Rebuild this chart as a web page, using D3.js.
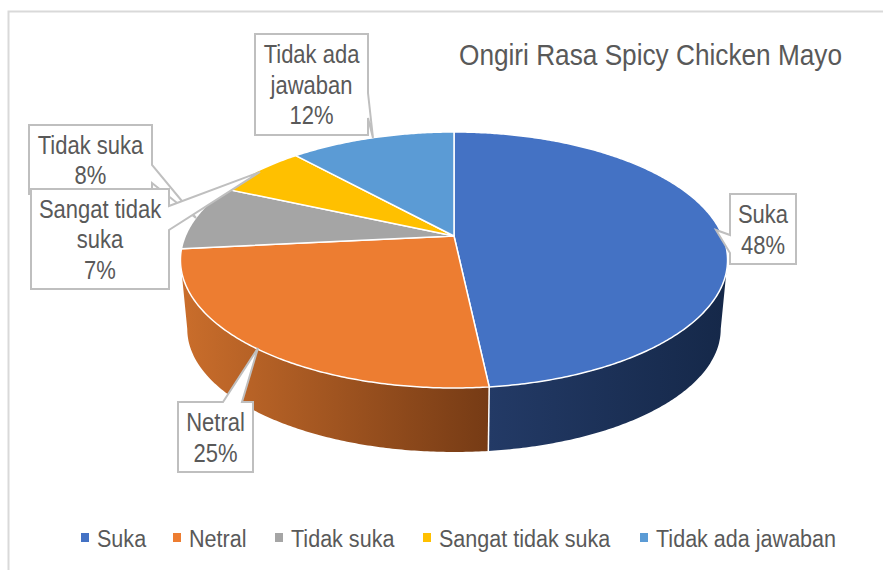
<!DOCTYPE html>
<html>
<head>
<meta charset="utf-8">
<script src="https://cdn.jsdelivr.net/npm/d3@7"></script>
<style>
html, body { margin: 0; padding: 0; background: #fff; }
svg { display: block; }
text { font-family: "Liberation Sans", Arial, sans-serif; fill: #595959; }
</style>
</head>
<body>
<div id="chart"></div>
<script>
// values
var categories = ["Suka", "Netral", "Tidak suka", "Sangat tidak suka", "Tidak ada jawaban"];
var values = [48.3, 25.1, 8.3, 6.6, 11.7];
var colors = ["#4472C4", "#ED7D31", "#A5A5A5", "#FFC000", "#5B9BD5"];
var labelLines = [["Suka"], ["Netral"], ["Tidak suka"], ["Sangat tidak", "suka"], ["Tidak ada", "jawaban"]];
var chartTitle = "Ongiri Rasa Spicy Chicken Mayo";

// callout boxes, [x0, y0, x1, y1], and the pointer outline for each
var labelBoxes = [
    {box: [730, 194, 796, 264], tip: [716, 230], side: "left", from: 235, to: 253},
    {box: [178, 402, 253, 472], tip: [258, 348], side: "top", from: 223, to: 242},
    {box: [29, 125, 152, 194], tip: [196, 218], side: "right", from: 165, to: 183},
    {box: [31, 189, 169, 289], tip: [260, 172], side: "right", from: 206, to: 230},
    {box: [255, 34, 368, 135], tip: [373, 138], side: "right", from: 93, to: 118}
];
var legendX = [81, 173, 275, 423, 640];

var width = 883, height = 570;
var textScale = 0.88;

var svg = d3.select("#chart").append("svg")
    .attr("width", width)
    .attr("height", height);

// chart frame
svg.append("rect")
    .attr("x", 8.5).attr("y", 11.5)
    .attr("width", width + 20).attr("height", height + 20)
    .attr("fill", "#fff")
    .attr("stroke", "#d9d9d9")
    .attr("stroke-width", 2);

// perspective of the disc. k tilts it, so the far half is shorter than the near one
var persp = {x0: 454, k: 0.1875};
var topRim = {y0: 236, a: 268.7, b: 123.5};
var botRim = {y0: 306, a: 262, b: 118.6};

function project(rim, angle) {
    let u = Math.sin(angle);
    let v = Math.cos(angle);
    let w = 1 + persp.k * v;
    return [persp.x0 + rim.a * u / w, rim.y0 - rim.b * v / w];
}

function rimPoints(rim, a0, a1) {
    let n = Math.max(2, Math.ceil(Math.abs(a1 - a0) / 0.01));
    return d3.range(n + 1).map((i) => project(rim, a0 + (a1 - a0) * i / n));
}

var line = d3.line();
var pie = d3.pie().sort(null);
var arcs = pie(values);

var defs = svg.append("defs");
function wallGradient(id, c0, c1, x0, x1) {
    let g = defs.append("linearGradient")
        .attr("id", id)
        .attr("gradientUnits", "userSpaceOnUse")
        .attr("x1", x0).attr("x2", x1)
        .attr("y1", 0).attr("y2", 0);
    g.append("stop").attr("offset", 0).attr("stop-color", c0);
    g.append("stop").attr("offset", 1).attr("stop-color", c1);
}
wallGradient("wall0", "#233a66", "#152849", 488, 725);
wallGradient("wall1", "#c96d2b", "#763b15", 185, 488);

// side wall, only the near half of the disc shows it. the rim is widest where cos = -k
var widest = Math.acos(-persp.k);
var wallStart = widest, wallEnd = Math.PI * 2 - widest;
arcs.forEach(function(d, i) {
    let a0 = Math.max(d.startAngle, wallStart);
    let a1 = Math.min(d.endAngle, wallEnd);
    if (a1 <= a0) return;
    let pts = rimPoints(topRim, a0, a1).concat(rimPoints(botRim, a1, a0));
    let wall = svg.append("path")
        .attr("d", line(pts) + "Z")
        .attr("fill", "url(#wall" + i + ")");
    // white seam only where two slices meet
    svg.append("path")
        .attr("d", line([project(topRim, d.startAngle), project(botRim, d.startAngle)]))
        .attr("stroke", d.startAngle > wallStart ? "#fff" : "none")
        .attr("stroke-width", 1.5);
});

// top face
arcs.forEach(function(d, i) {
    let pts = [[persp.x0, topRim.y0]].concat(rimPoints(topRim, d.startAngle, d.endAngle));
    svg.append("path")
        .attr("d", line(pts) + "Z")
        .attr("fill", colors[i])
        .attr("stroke", "#fff")
        .attr("stroke-width", 1.5)
        .attr("stroke-linejoin", "round");
});

// squeezed text, the original font is narrower than what is installed
function squeezed(x, y, str, size, anchor) {
    return svg.append("text")
        .attr("transform", "translate(" + x + "," + y + ") scale(" + textScale + ",1)")
        .attr("font-size", size)
        .attr("text-anchor", anchor)
        .text(str);
}

function calloutPath(c) {
    let [x0, y0, x1, y1] = c.box;
    let pts;
    if (c.side === "left") {
        pts = [[x0, y0], [x1, y0], [x1, y1], [x0, y1], [x0, c.to], c.tip, [x0, c.from]];
    } else if (c.side === "top") {
        pts = [[x0, y0], [c.from, y0], c.tip, [c.to, y0], [x1, y0], [x1, y1], [x0, y1]];
    } else {
        pts = [[x0, y0], [x1, y0], [x1, c.from], c.tip, [x1, c.to], [x1, y1], [x0, y1]];
    }
    return line(pts) + "Z";
}

// data labels, drawn in category order so Sangat tidak suka sits over Tidak suka
var percentText = d3.format(".0f");
var total = d3.sum(values);
var labelOrder = [0, 1, 2, 3, 4];
labelOrder.forEach(function(i) {
    let c = labelBoxes[i];
    svg.append("path")
        .attr("d", calloutPath(c))
        .attr("fill", "#fff")
        .attr("stroke", "#bfbfbf")
        .attr("stroke-width", 2);
    let lines = labelLines[i].concat([percentText(values[i] / total * 100) + "%"]);
    let cx = (c.box[0] + c.box[2]) / 2;
    let top = (c.box[1] + c.box[3]) / 2 - (lines.length * 30.5) / 2;
    lines.forEach(function(s, j) {
        squeezed(cx, top + 24.5 + j * 30.5, s, 25, "middle");
    });
});

// title
squeezed(459, 65, chartTitle, 29.8, "start");

// legend
categories.forEach(function(name, i) {
    svg.append("rect")
        .attr("x", legendX[i]).attr("y", 533)
        .attr("width", 8).attr("height", 9)
        .attr("fill", colors[i]);
    squeezed(legendX[i] + 16, 547, name, 24.5, "start");
});
</script>
</body>
</html>
